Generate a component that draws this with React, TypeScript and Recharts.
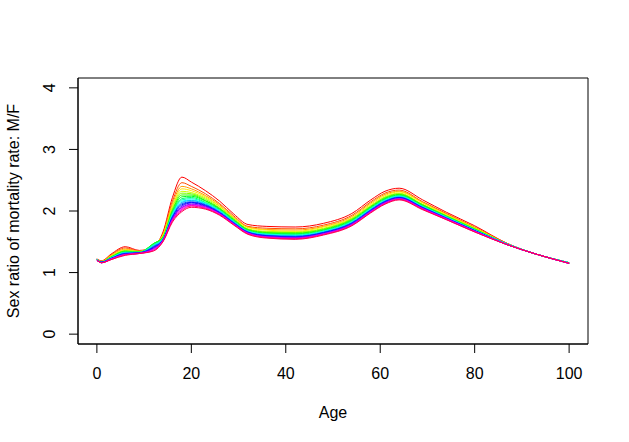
import React from 'react';
import { LineChart, Line, XAxis, YAxis, ReferenceArea, Label } from 'recharts';

// ages on the x axis
const ages = [0, 1, 3, 6, 9, 12, 14, 16, 18, 20, 23, 26, 29, 32, 36, 42, 48, 54, 58, 61, 64, 69, 74, 80, 87, 93, 100];

const xTicks = [0, 20, 40, 60, 80, 100];
const yTicks = [0, 1, 2, 3, 4];

// one curve per period, oldest (red) to latest (pink)
const curve01 = [1.22, 1.19, 1.30, 1.42, 1.36, 1.42, 1.66, 2.22, 2.55, 2.47, 2.33, 2.16, 1.95, 1.78, 1.75, 1.74, 1.80, 1.96, 2.18, 2.32, 2.37, 2.18, 1.98, 1.76, 1.47, 1.30, 1.16];
const curve02 = [1.22, 1.19, 1.29, 1.40, 1.35, 1.43, 1.63, 2.16, 2.46, 2.40, 2.28, 2.12, 1.92, 1.75, 1.72, 1.71, 1.77, 1.93, 2.15, 2.29, 2.34, 2.15, 1.96, 1.74, 1.47, 1.30, 1.16];
const curve03 = [1.21, 1.18, 1.28, 1.38, 1.35, 1.44, 1.62, 2.12, 2.40, 2.36, 2.25, 2.10, 1.90, 1.74, 1.70, 1.69, 1.75, 1.91, 2.13, 2.27, 2.32, 2.14, 1.95, 1.73, 1.46, 1.30, 1.16];
const curve04 = [1.21, 1.18, 1.27, 1.37, 1.34, 1.45, 1.61, 2.08, 2.36, 2.33, 2.23, 2.08, 1.89, 1.73, 1.69, 1.67, 1.74, 1.89, 2.11, 2.25, 2.31, 2.13, 1.94, 1.73, 1.46, 1.30, 1.16];
const curve05 = [1.21, 1.18, 1.26, 1.36, 1.34, 1.46, 1.59, 2.06, 2.32, 2.30, 2.21, 2.07, 1.88, 1.71, 1.67, 1.66, 1.72, 1.88, 2.09, 2.23, 2.29, 2.11, 1.93, 1.72, 1.46, 1.30, 1.16];
const curve06 = [1.21, 1.18, 1.26, 1.35, 1.34, 1.47, 1.58, 2.03, 2.29, 2.28, 2.19, 2.05, 1.87, 1.70, 1.66, 1.65, 1.71, 1.87, 2.08, 2.22, 2.28, 2.10, 1.92, 1.71, 1.46, 1.30, 1.16];
const curve07 = [1.21, 1.17, 1.25, 1.35, 1.33, 1.47, 1.58, 2.01, 2.26, 2.26, 2.17, 2.04, 1.86, 1.70, 1.65, 1.64, 1.70, 1.86, 2.07, 2.21, 2.27, 2.10, 1.92, 1.71, 1.46, 1.30, 1.16];
const curve08 = [1.21, 1.17, 1.25, 1.34, 1.33, 1.47, 1.57, 1.99, 2.23, 2.24, 2.16, 2.03, 1.85, 1.69, 1.64, 1.63, 1.69, 1.85, 2.06, 2.20, 2.26, 2.09, 1.91, 1.70, 1.46, 1.30, 1.16];
const curve09 = [1.21, 1.17, 1.24, 1.33, 1.33, 1.46, 1.56, 1.97, 2.20, 2.22, 2.14, 2.02, 1.84, 1.68, 1.63, 1.62, 1.68, 1.84, 2.05, 2.19, 2.25, 2.08, 1.91, 1.70, 1.46, 1.30, 1.16];
const curve10 = [1.21, 1.17, 1.24, 1.33, 1.33, 1.45, 1.55, 1.96, 2.18, 2.20, 2.13, 2.01, 1.83, 1.67, 1.62, 1.61, 1.67, 1.83, 2.04, 2.18, 2.24, 2.07, 1.90, 1.69, 1.46, 1.30, 1.16];
const curve11 = [1.21, 1.17, 1.24, 1.32, 1.32, 1.44, 1.55, 1.94, 2.16, 2.18, 2.12, 2.00, 1.82, 1.67, 1.62, 1.60, 1.67, 1.82, 2.03, 2.17, 2.24, 2.07, 1.90, 1.69, 1.46, 1.30, 1.16];
const curve12 = [1.21, 1.17, 1.23, 1.32, 1.32, 1.43, 1.54, 1.92, 2.14, 2.17, 2.11, 1.99, 1.82, 1.66, 1.61, 1.59, 1.66, 1.81, 2.02, 2.16, 2.23, 2.06, 1.89, 1.69, 1.46, 1.30, 1.16];
const curve13 = [1.20, 1.17, 1.23, 1.31, 1.32, 1.42, 1.54, 1.91, 2.12, 2.15, 2.10, 1.98, 1.81, 1.66, 1.60, 1.59, 1.65, 1.81, 2.02, 2.16, 2.22, 2.06, 1.89, 1.68, 1.45, 1.30, 1.15];
const curve14 = [1.20, 1.17, 1.23, 1.31, 1.32, 1.41, 1.53, 1.90, 2.10, 2.14, 2.09, 1.97, 1.80, 1.65, 1.60, 1.58, 1.65, 1.80, 2.01, 2.15, 2.22, 2.05, 1.88, 1.68, 1.45, 1.30, 1.15];
const curve15 = [1.20, 1.16, 1.22, 1.30, 1.32, 1.40, 1.53, 1.88, 2.08, 2.13, 2.08, 1.97, 1.80, 1.65, 1.59, 1.57, 1.64, 1.79, 2.00, 2.14, 2.21, 2.05, 1.88, 1.68, 1.45, 1.30, 1.15];
const curve16 = [1.20, 1.16, 1.22, 1.30, 1.32, 1.39, 1.52, 1.87, 2.06, 2.11, 2.07, 1.96, 1.79, 1.64, 1.58, 1.57, 1.63, 1.79, 2.00, 2.14, 2.20, 2.04, 1.88, 1.67, 1.45, 1.30, 1.15];
const curve17 = [1.20, 1.16, 1.22, 1.29, 1.31, 1.38, 1.52, 1.86, 2.05, 2.10, 2.06, 1.95, 1.79, 1.64, 1.58, 1.56, 1.63, 1.78, 1.99, 2.13, 2.20, 2.04, 1.87, 1.67, 1.45, 1.30, 1.15];
const curve18 = [1.20, 1.16, 1.22, 1.29, 1.31, 1.37, 1.51, 1.85, 2.03, 2.09, 2.05, 1.95, 1.78, 1.63, 1.57, 1.55, 1.62, 1.77, 1.98, 2.12, 2.19, 2.03, 1.87, 1.67, 1.45, 1.30, 1.15];
const curve19 = [1.20, 1.16, 1.21, 1.29, 1.31, 1.36, 1.51, 1.84, 2.01, 2.08, 2.04, 1.94, 1.78, 1.63, 1.57, 1.55, 1.62, 1.77, 1.98, 2.12, 2.19, 2.03, 1.86, 1.66, 1.45, 1.30, 1.15];
const curve20 = [1.20, 1.16, 1.21, 1.28, 1.31, 1.35, 1.50, 1.82, 1.99, 2.06, 2.03, 1.93, 1.77, 1.62, 1.56, 1.54, 1.61, 1.76, 1.97, 2.11, 2.18, 2.02, 1.86, 1.66, 1.45, 1.30, 1.15];

const curves = [
  curve01, curve02, curve03, curve04, curve05, curve06, curve07, curve08, curve09, curve10,
  curve11, curve12, curve13, curve14, curve15, curve16, curve17, curve18, curve19, curve20,
];

// rainbow(20)
const colors = [
  '#FF0000', '#FF4D00', '#FF9900', '#FFE600', '#CCFF00', '#80FF00', '#33FF00', '#00FF1A', '#00FF66', '#00FFB3',
  '#00FFFF', '#00B3FF', '#0066FF', '#001AFF', '#3300FF', '#8000FF', '#CC00FF', '#FF00E6', '#FF0099', '#FF004D',
];

const data = ages.map((age, j) => {
  const row: Record<string, number> = { age };
  curves.forEach((c, i) => {
    row['s' + i] = c[j];
  });
  return row;
});

const FONT = '"Liberation Sans", Arial, sans-serif';

const YTick = (props: any) => {
  const { x, y, payload } = props;
  return (
    <text x={x} y={y} transform={`rotate(-90 ${x} ${y})`} textAnchor="middle" fontSize={16} fill="#000" fontFamily={FONT}>
      {payload.value}
    </text>
  );
};

export default function App() {
  return (
    <div style={{ position: 'absolute', left: 0, top: 0, width: 629, height: 442, background: '#fff', fontFamily: FONT }}>
      <LineChart width={629} height={442} data={data} margin={{ top: 78, right: 41, bottom: 58, left: 38 }}>
        <XAxis
          dataKey="age"
          type="number"
          domain={[-4, 104]}
          ticks={xTicks}
          allowDataOverflow
          height={40}
          tickSize={9}
          tickMargin={15}
          stroke="#000"
          tick={{ fill: '#000', fontSize: 16, fontFamily: FONT }}
        >
          <Label
            content={() => (
              <text x={333} y={418} textAnchor="middle" fontSize={16} fill="#000" fontFamily={FONT}>
                Age
              </text>
            )}
          />
        </XAxis>
        <YAxis
          type="number"
          domain={[-0.16, 4.16]}
          ticks={yTicks}
          allowDataOverflow
          width={40}
          tickSize={9}
          tickMargin={14}
          stroke="#000"
          tick={<YTick />}
        >
          <Label
            content={() => (
              <text x={19} y={211} transform="rotate(-90 19 211)" textAnchor="middle" fontSize={16} fill="#000" fontFamily={FONT}>
                Sex ratio of mortality rate: M/F
              </text>
            )}
          />
        </YAxis>
        <ReferenceArea x1={-4} x2={104} y1={-0.16} y2={4.16} fill="none" stroke="#000" strokeWidth={1} ifOverflow="visible" />
        {curves.map((_, i) => (
          <Line
            key={i}
            dataKey={'s' + i}
            type="monotone"
            stroke={colors[i]}
            strokeWidth={1}
            dot={false}
            activeDot={false}
            isAnimationActive={false}
          />
        ))}
      </LineChart>
    </div>
  );
}
